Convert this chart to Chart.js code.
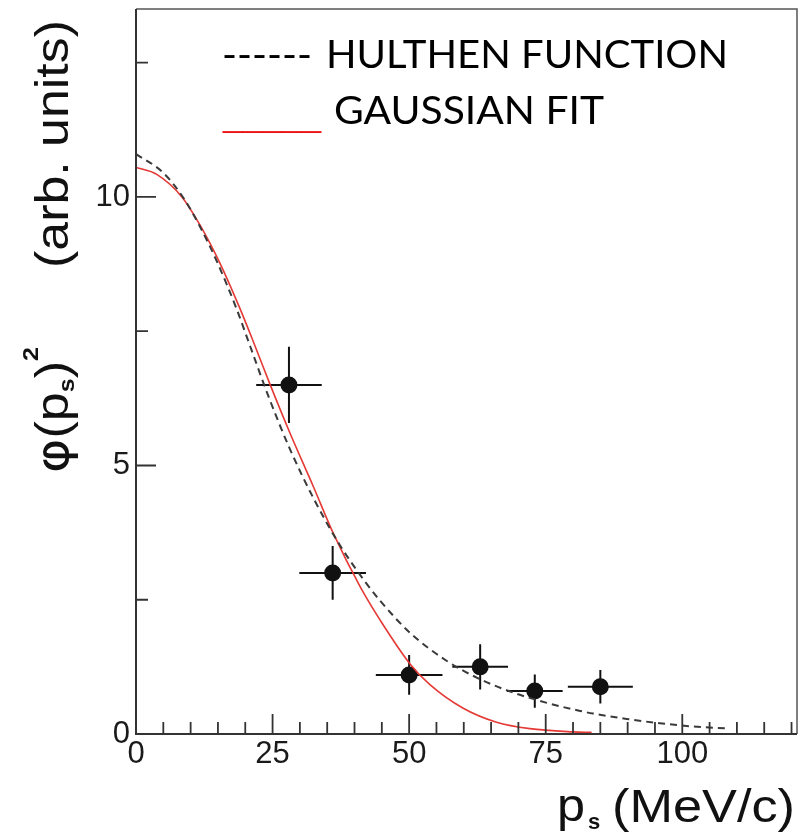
<!DOCTYPE html>
<html>
<head>
<meta charset="utf-8">
<script src="https://cdn.jsdelivr.net/npm/chart.js@4.4.1/dist/chart.umd.min.js"></script>
<style>
  html, body { margin: 0; padding: 0; background: #ffffff; }
  #wrap { width: 806px; height: 832px; position: relative; }
</style>
</head>
<body>
<div id="wrap"><canvas id="chart" width="806" height="832"></canvas></div>
<script>
// Measured spectator momentum distribution (points with errors)
const momentum    = [28, 36, 50, 63, 73, 85];
const density     = [6.5, 3.0, 1.1, 1.25, 0.8, 0.88];
const momentumErr = [6.0, 6.1, 6.1, 5.1, 5.1, 5.95];
const densityErr  = [0.71, 0.5, 0.37, 0.42, 0.31, 0.31];

// Gaussian fit curve, sampled
const gaussX = [0, 3.8, 8.4, 11.7, 15.4, 19.0, 21.5, 24.5, 28.2, 32.5, 36.1, 41.0, 44.7, 50.2, 53.8, 59.9, 66.0, 72.1, 80.0, 83.4];
const gaussY = [10.55, 10.42, 10.0, 9.48, 8.76, 7.93, 7.3, 6.52, 5.6, 4.6, 3.74, 2.75, 2.12, 1.30, 0.92, 0.48, 0.22, 0.10, 0.04, 0.03];

// Hulthen function curve, sampled
const hulthenX = [0, 5.0, 8.7, 11.7, 14.8, 18.4, 20.9, 24.2, 28.2, 32.8, 37.3, 41.9, 44.7, 50.2, 56.9, 63.0, 69.1, 75.2, 81.3, 83.7, 89.8, 95.9, 102.0, 108.7];
const hulthenY = [10.8, 10.45, 9.98, 9.45, 8.80, 7.92, 7.22, 6.30, 5.30, 4.33, 3.52, 2.84, 2.48, 1.88, 1.36, 1.02, 0.77, 0.58, 0.43, 0.38, 0.28, 0.20, 0.14, 0.10];

// Axis ticks
const xTickLabels = [0, 25, 50, 75, 100];
const xMinorTicks = [5, 10, 15, 20, 30, 35, 40, 45, 55, 60, 65, 70, 80, 85, 90, 95, 105, 110, 115, 120];
const yTickLabels = [0, 5, 10];
const yMinorTicks = [2.5, 7.5, 12.5];

const toPoints = (xs, ys) => xs.map((x, i) => ({ x: x, y: ys[i] }));

const AXIS_COLOR = '#333333';
const SANS = '"Liberation Sans", Arial, sans-serif';
const TICK_FONT = { family: SANS, size: 31 };

// Draw text compressed/stretched horizontally to span a given width
function fitText(ctx, text, x, y, width) {
  const w = ctx.measureText(text).width;
  ctx.save();
  ctx.translate(x, y);
  ctx.scale(width / w, 1);
  ctx.fillText(text, 0, 0);
  ctx.restore();
}

// Error bars on the measured points
const errorBars = {
  id: 'errorBars',
  beforeDatasetsDraw(chart) {
    const { ctx, scales: { x, y } } = chart;
    ctx.save();
    ctx.strokeStyle = '#111111';
    ctx.lineWidth = 2;
    momentum.forEach((m, i) => {
      const px = x.getPixelForValue(m);
      const py = y.getPixelForValue(density[i]);
      ctx.beginPath();
      ctx.moveTo(x.getPixelForValue(m - momentumErr[i]), py);
      ctx.lineTo(x.getPixelForValue(m + momentumErr[i]), py);
      ctx.moveTo(px, y.getPixelForValue(density[i] - densityErr[i]));
      ctx.lineTo(px, y.getPixelForValue(density[i] + densityErr[i]));
      ctx.stroke();
    });
    ctx.restore();
  }
};

// Frame, inward tick marks, axis titles and legend
const decorations = {
  id: 'decorations',
  afterDraw(chart) {
    const { ctx, chartArea: a, scales: { x, y } } = chart;
    ctx.save();
    // frame
    ctx.strokeStyle = '#555555';
    ctx.lineWidth = 1.5;
    ctx.beginPath();
    ctx.moveTo(a.left, a.top);
    ctx.lineTo(a.right, a.top);
    ctx.lineTo(a.right, a.bottom);
    ctx.stroke();
    ctx.strokeStyle = AXIS_COLOR;
    ctx.lineWidth = 2;
    ctx.beginPath();
    ctx.moveTo(a.left, a.top);
    ctx.lineTo(a.left, a.bottom);
    ctx.lineTo(a.right, a.bottom);
    ctx.stroke();
    // ticks
    ctx.lineWidth = 1.8;
    ctx.beginPath();
    xTickLabels.forEach(v => { const p = x.getPixelForValue(v); ctx.moveTo(p, a.bottom); ctx.lineTo(p, a.bottom - 20); });
    xMinorTicks.forEach(v => { const p = x.getPixelForValue(v); ctx.moveTo(p, a.bottom); ctx.lineTo(p, a.bottom - 12); });
    yTickLabels.forEach(v => { const p = y.getPixelForValue(v); ctx.moveTo(a.left, p); ctx.lineTo(a.left + 20, p); });
    yMinorTicks.forEach(v => { const p = y.getPixelForValue(v); ctx.moveTo(a.left, p); ctx.lineTo(a.left + 12, p); });
    ctx.stroke();

    // x axis title: p_s (MeV/c)
    ctx.fillStyle = '#111111';
    ctx.textBaseline = 'alphabetic';
    ctx.textAlign = 'left';
    ctx.font = '46px ' + SANS;
    fitText(ctx, 'p', 557, 821, 28);
    ctx.font = 'bold 22px ' + SANS;
    ctx.fillText('s', 588, 829);
    ctx.font = '46px ' + SANS;
    fitText(ctx, '(MeV/c)', 612, 822, 183);

    // y axis title: φ(p_s)^2 (arb. units), rotated
    ctx.save();
    ctx.translate(68, 473);
    ctx.rotate(-Math.PI / 2);
    const parts = [
      { t: 'φ', f: '46px "DejaVu Sans", sans-serif', dy: 0 },
      { t: '(', f: '46px ' + SANS, dy: 0 },
      { t: 'p', f: '46px ' + SANS, dy: 0 },
      { t: 's', f: 'bold 22px ' + SANS, dy: 6 },
      { t: ')', f: '46px ' + SANS, dy: 0 },
      { t: '2', f: 'bold 22px ' + SANS, dy: -30 }
    ];
    let total = 0;
    parts.forEach(p => { ctx.font = p.f; p.w = ctx.measureText(p.t).width; total += p.w; });
    const k = 126 / total;
    let u = 0;
    parts.forEach(p => {
      ctx.font = p.f;
      ctx.save();
      ctx.translate(u, p.dy);
      ctx.scale(k, 1);
      ctx.fillText(p.t, 0, 0);
      ctx.restore();
      u += p.w * k;
    });
    ctx.font = '46px ' + SANS;
    fitText(ctx, '(arb. units)', 473 - 268, 0, 248);
    ctx.restore();

    // legend
    ctx.font = '39px Lato, "Open Sans", sans-serif';
    ctx.fillStyle = '#000000';
    fitText(ctx, '------', 222, 68, 90);
    fitText(ctx, 'HULTHEN FUNCTION', 326, 68, 402);
    ctx.fillStyle = '#ee1111';
    ctx.font = '30px ' + SANS;
    fitText(ctx, '_____', 223, 127, 98);
    ctx.fillStyle = '#000000';
    ctx.font = '39px Lato, "Open Sans", sans-serif';
    fitText(ctx, 'GAUSSIAN FIT', 334, 124, 270);
    ctx.restore();
  }
};

new Chart(document.getElementById('chart'), {
  type: 'scatter',
  data: {
    datasets: [
      {
        label: 'HULTHEN FUNCTION',
        data: toPoints(hulthenX, hulthenY),
        showLine: true,
        borderColor: '#3a3a3a',
        borderWidth: 2,
        borderDash: [7, 5],
        pointRadius: 0,
        cubicInterpolationMode: 'monotone'
      },
      {
        label: 'GAUSSIAN FIT',
        data: toPoints(gaussX, gaussY),
        showLine: true,
        borderColor: '#e53935',
        borderWidth: 1.6,
        pointRadius: 0,
        cubicInterpolationMode: 'monotone'
      },
      {
        label: 'data',
        data: toPoints(momentum, density),
        showLine: false,
        pointRadius: 8.5,
        pointBackgroundColor: '#111111',
        pointBorderWidth: 0
      }
    ]
  },
  options: {
    responsive: false,
    animation: false,
    layout: { padding: { left: 0, right: 9, top: 9, bottom: 0 } },
    plugins: { legend: { display: false }, tooltip: { enabled: false } },
    scales: {
      x: {
        type: 'linear',
        min: 0,
        max: 121,
        afterBuildTicks: s => { s.ticks = xTickLabels.map(v => ({ value: v })); },
        afterFit: s => { s.height = 98; s.paddingLeft = 0; s.paddingRight = 0; },
        grid: { display: false, drawTicks: false },
        border: { display: false },
        ticks: { font: TICK_FONT, color: '#1a1a1a', padding: 2, maxRotation: 0, autoSkip: false }
      },
      y: {
        type: 'linear',
        min: 0,
        max: 13.5,
        afterBuildTicks: s => { s.ticks = yTickLabels.map(v => ({ value: v })); },
        afterFit: s => { s.width = 136; s.paddingTop = 0; s.paddingBottom = 0; },
        grid: { display: false, drawTicks: false },
        border: { display: false },
        ticks: { font: TICK_FONT, color: '#1a1a1a', padding: 6 }
      }
    }
  },
  plugins: [errorBars, decorations]
});
</script>
</body>
</html>
